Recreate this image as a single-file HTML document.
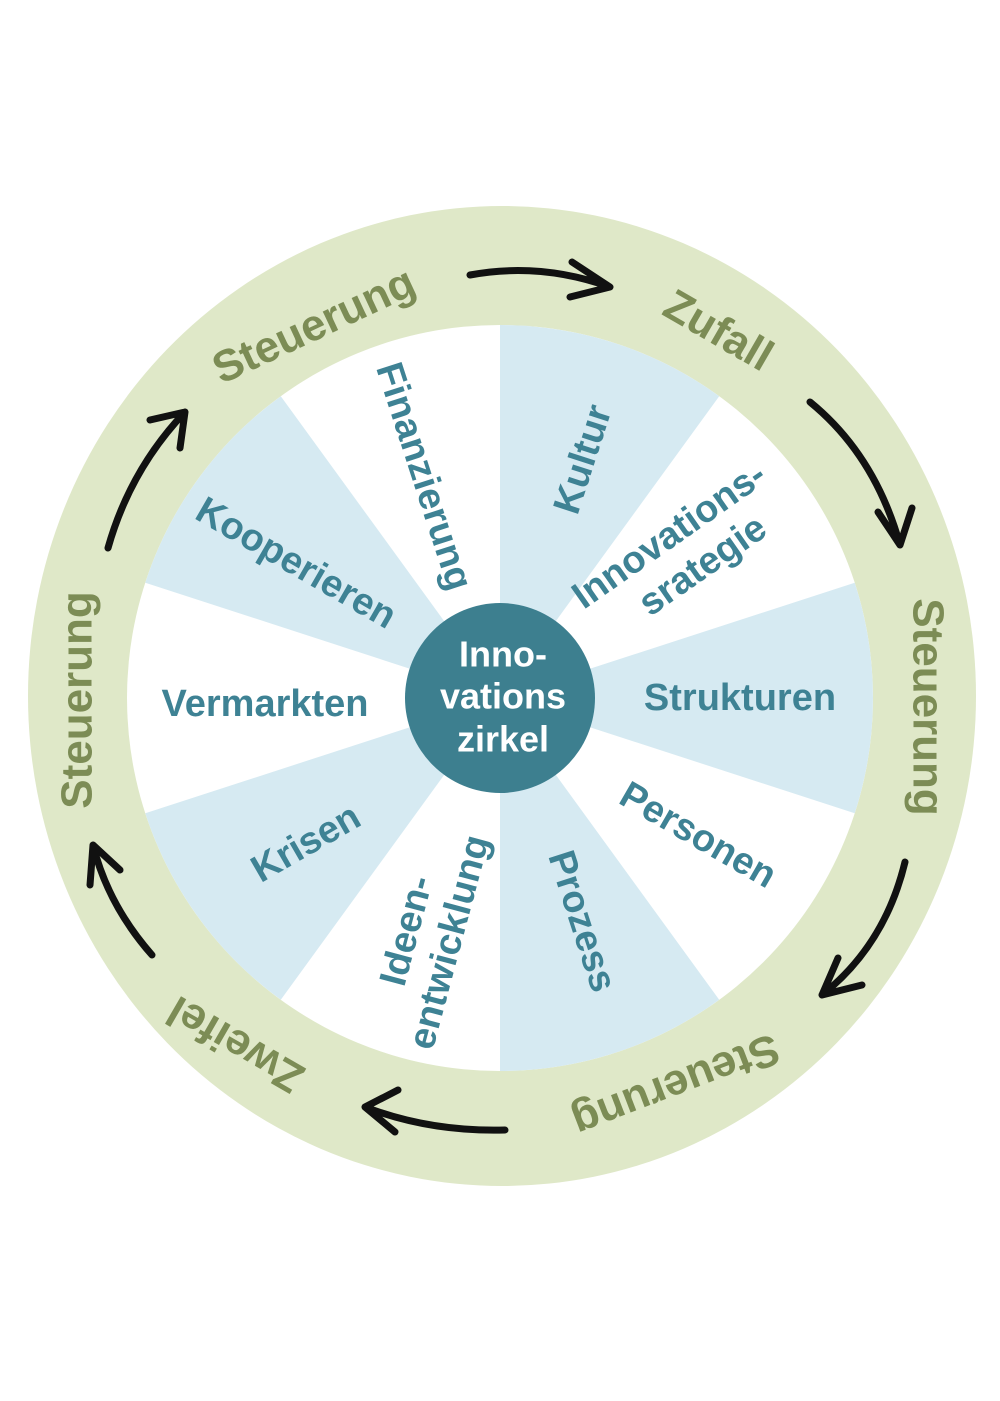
<!DOCTYPE html>
<html><head><meta charset="utf-8"><style>
html,body{margin:0;padding:0;background:#fff}
svg{display:block}
.b{font-family:"Liberation Sans",sans-serif;font-weight:bold;fill:#3e8294;font-size:38px;text-anchor:middle;dominant-baseline:middle}
.g{font-family:"Liberation Sans",sans-serif;font-weight:bold;fill:#7c8c55;font-size:44px;text-anchor:middle;dominant-baseline:middle}
.w{font-family:"Liberation Sans",sans-serif;font-weight:bold;fill:#fff;font-size:36px;text-anchor:middle;dominant-baseline:middle}
.a{fill:none;stroke:#111;stroke-width:7;stroke-linecap:round;stroke-linejoin:round}
</style></head><body>
<svg width="1000" height="1401" viewBox="0 0 1000 1401" xmlns="http://www.w3.org/2000/svg">
<ellipse cx="502" cy="696" rx="474" ry="490" fill="#dfe8c8"/>
<circle cx="500" cy="698" r="373" fill="#fff"/>
<g fill="#d6eaf2">
<path d="M500 698 L500 325 A373 373 0 0 1 719.2 396.2 Z"/>
<path d="M500 698 L854.7 582.7 A373 373 0 0 1 854.7 813.3 Z"/>
<path d="M500 698 L719.2 999.8 A373 373 0 0 1 500 1071 Z"/>
<path d="M500 698 L280.8 999.8 A373 373 0 0 1 145.3 813.3 Z"/>
<path d="M500 698 L145.3 582.7 A373 373 0 0 1 280.8 396.2 Z"/>
</g>
<circle cx="500" cy="698" r="95" fill="#3d7f8f"/>
<text class="w" x="503" y="657">Inno-</text>
<text class="w" x="503" y="699">vations</text>
<text class="w" x="503" y="742">zirkel</text>

<text class="b" transform="translate(585,460) rotate(-72)">Kultur</text>
<g transform="translate(683,555) rotate(-35)"><text class="b" x="0" y="-22">Innovations-</text><text class="b" x="10" y="22">srategie</text></g>
<text class="b" x="740" y="700">Strukturen</text>
<text class="b" transform="translate(697,837) rotate(30)">Personen</text>
<text class="b" transform="translate(580,922) rotate(72)">Prozess</text>
<g transform="translate(430,937) rotate(-75)"><text class="b" x="0" y="-22">Ideen-</text><text class="b" x="0" y="22">entwicklung</text></g>
<text class="b" transform="translate(307,845) rotate(-30)">Krisen</text>
<text class="b" x="265" y="706">Vermarkten</text>
<text class="b" transform="translate(295,565) rotate(30)">Kooperieren</text>
<text class="b" transform="translate(422,477) rotate(72)">Finanzierung</text>

<text class="g" transform="translate(315,328) rotate(-25)">Steuerung</text>
<text class="g" transform="translate(717,333) rotate(30)">Zufall</text>
<text class="g" transform="translate(925,707) rotate(90)">Steuerung</text>
<text class="g" transform="translate(675,1083) rotate(159)">Steuerung</text>
<text class="g" transform="translate(237,1042) rotate(210)">Zweifel</text>
<text class="g" transform="translate(80,700) rotate(-90)">Steuerung</text>

<path class="a" d="M470 275 Q540 262 610 287 M572 262 L610 287 L570 297"/>
<path class="a" d="M810 402 Q875 455 900 545 M878 512 L900 545 L912 508"/>
<path class="a" d="M905 862 Q885 945 822 995 M838 958 L822 995 L862 985"/>
<path class="a" d="M505 1130 Q430 1132 365 1107 M398 1090 L365 1107 L395 1132"/>
<path class="a" d="M152 955 Q108 905 93 845 M90 885 L93 845 L120 870"/>
<path class="a" d="M108 548 Q130 470 185 412 M150 420 L185 412 L180 448"/>
</svg>
</body></html>
